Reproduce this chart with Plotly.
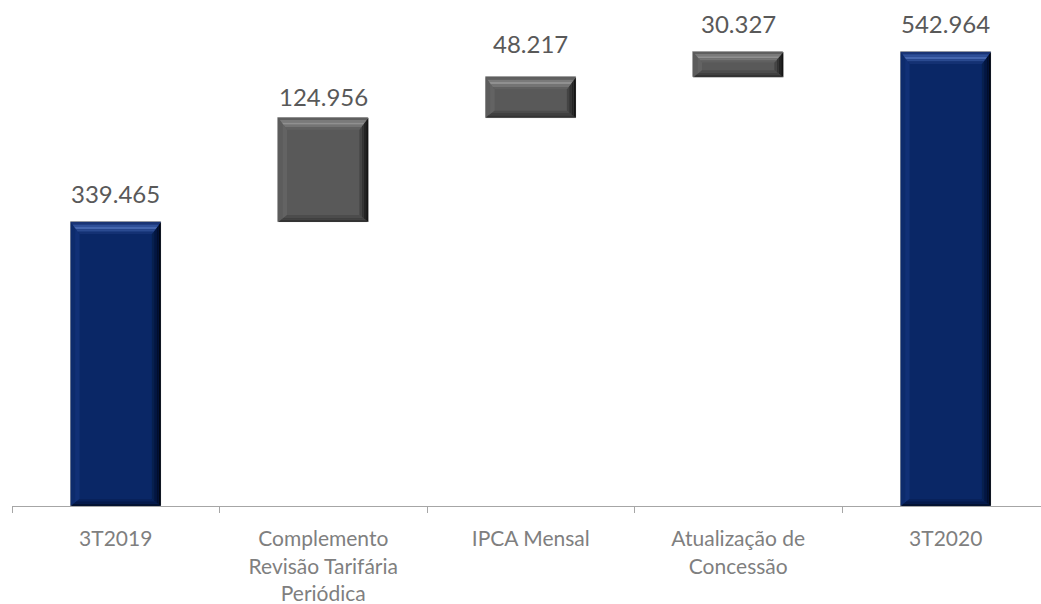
import plotly.graph_objects as go

# ---- data ----
categories = ["3T2019", "Complemento<br>Revisão Tarifária<br>Periódica", "IPCA Mensal",
              "Atualização de<br>Concessão", "3T2020"]
values = [339.465, 124.956, 48.217, 30.327, 542.964]
measures = ["total", "relative", "relative", "relative", "total"]
value_labels = ["339.465", "124.956", "48.217", "30.327", "542.964"]

# ---- derived bases ----
bases, tops = [], []
running = 0.0
for v, m in zip(values, measures):
    if m == "total":
        bases.append(0.0)
        running = v
        tops.append(v)
    else:
        bases.append(running)
        running += v
        tops.append(running)
heights = [t - b for t, b in zip(tops, bases)]

NAVY = dict(base="#0a2766",
            top=["#1a3475", "#2e4f98", "#4566ae", "#2a4a90", "#143173"],
            right=["#000614", "#010e2e", "#041640", "#07204f"],
            bottom=["#031232", "#05194a", "#08215a"],
            left=["#0d2b6c", "#113076"])
GRAY = dict(base="#595959",
            top=["#5f5f5f", "#7a7a7a", "#909090", "#747474", "#606060"],
            right=["#141414", "#242424", "#333333", "#444444"],
            bottom=["#333333", "#404040", "#4c4c4c"],
            left=["#5c5c5c", "#636363"])
styles = [NAVY if m == "total" else GRAY for m in measures]

W, H = 1041, 604
ML, MR, MT, MB = 12, 0, 4, 98
XR = [-0.5, 4.459]
YR = [0, 600.3]
BW = 0.435
px_x = (W - ML - MR) / (XR[1] - XR[0])
px_y = (H - MT - MB) / (YR[1] - YR[0])

fig = go.Figure()
fig.add_trace(go.Bar(
    x=list(range(len(categories))), y=heights, base=bases, width=BW,
    marker=dict(color=[s["base"] for s in styles], line=dict(color="#9a9a9a", width=0.8)),
    hoverinfo="skip", showlegend=False,
))

shapes = []
def poly(pts, color):
    path = "M " + " L ".join(f"{x:.5f},{y:.4f}" for x, y in pts) + " Z"
    return dict(type="path", path=path, xref="x", yref="y", fillcolor=color,
                line=dict(width=0), layer="above")

def lerp(p, q, f):
    return (p[0] + (q[0] - p[0]) * f, p[1] + (q[1] - p[1]) * f)

def face(o1, o2, i1, i2, colors):
    n = len(colors)
    out = []
    for k, c in enumerate(colors):
        fa, fb = k / n, (k + 1) / n
        out.append(poly([lerp(o1, i1, fa), lerp(o2, i2, fa), lerp(o2, i2, fb), lerp(o1, i1, fb)], c))
    return out

for i, (b, t, s) in enumerate(zip(bases, tops, styles)):
    x0, x1 = i - BW / 2, i + BW / 2
    hpx = (t - b) * px_y
    dtp = min(12, hpx * 0.42)
    dbp = min(7, hpx * 0.28)
    dx = 9 / px_x
    dyt = dtp / px_y
    dyb = dbp / px_y
    OTL, OTR, OBL, OBR = (x0, t), (x1, t), (x0, b), (x1, b)
    ITL, ITR = (x0 + dx, t - dyt), (x1 - dx, t - dyt)
    IBL, IBR = (x0 + dx, b + dyb), (x1 - dx, b + dyb)
    shapes += face(OTL, OBL, ITL, IBL, s["left"])
    shapes += face(OBL, OBR, IBL, IBR, s["bottom"])
    shapes += face(OTR, OBR, ITR, IBR, s["right"])
    shapes += face(OTL, OTR, ITL, ITR, s["top"])

label_gap_px = [12, 5, 17, 12, 12]
annotations = []
for i, (t, lab) in enumerate(zip(tops, value_labels)):
    annotations.append(dict(x=i, y=t, xref="x", yref="y", text=lab, showarrow=False,
                            yanchor="bottom", yshift=label_gap_px[i],
                            font=dict(family="Lato", size=24, color="#595959")))

fig.update_layout(
    width=W, height=H,
    margin=dict(l=ML, r=MR, t=MT, b=MB),
    paper_bgcolor="white", plot_bgcolor="white",
    shapes=shapes, annotations=annotations,
    bargap=0,
    xaxis=dict(range=XR, tickmode="array", tickvals=list(range(len(categories))),
               ticktext=categories, ticks="", showline=True, linecolor="#a6a6a6", linewidth=1,
               showgrid=False, zeroline=False, fixedrange=True,
               tickfont=dict(family="Lato", size=21, color="#7f7f7f"),
               ticklabelstandoff=14),
    xaxis2=dict(range=XR, overlaying="x", side="bottom", tickmode="array",
                tickvals=[-0.5, 0.5, 1.5, 2.5, 3.5], ticks="outside", ticklen=6,
                tickcolor="#a6a6a6", tickwidth=1, showticklabels=False,
                showgrid=False, zeroline=False, showline=False),
    yaxis=dict(range=YR, visible=False, showgrid=False, zeroline=False),
)
fig.add_trace(go.Scatter(x=[None], y=[None], xaxis="x2", showlegend=False, hoverinfo="skip"))

fig.write_html("out.html")
